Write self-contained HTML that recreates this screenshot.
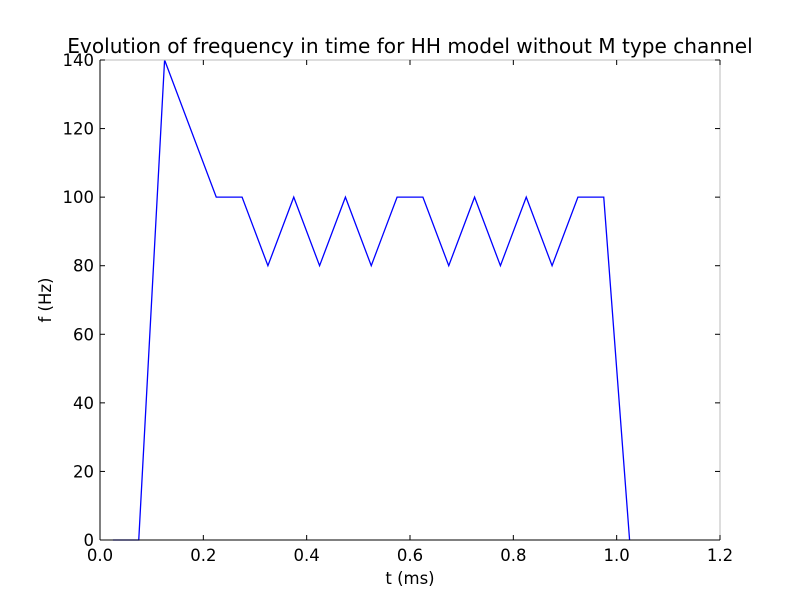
<!DOCTYPE html>
<html><head><meta charset="utf-8"><style>
body{margin:0;background:#fff;}
svg text{font-family:"DejaVu Sans","Liberation Sans",sans-serif;fill:#000;}
</style></head><body>
<svg id="chart" width="800" height="600" xmlns="http://www.w3.org/2000/svg">
<rect width="800" height="600" fill="#fff"/>
<text x="410" y="53" font-size="20.1" text-anchor="middle">Evolution of frequency in time for HH model without M type channel</text>
<g id="axes"></g>
<text x="410" y="584" font-size="16.5" text-anchor="middle">t (ms)</text>
<text x="0" y="0" font-size="16.5" text-anchor="middle" transform="translate(51,300) rotate(-90)">f (Hz)</text>
</svg>
<script>
const tValues=[0.025,0.075,0.125,0.225,0.275,0.325,0.375,0.425,0.475,0.525,0.575,0.625,0.675,0.725,0.775,0.825,0.875,0.925,0.975,1.025];
const fValues=[0,0,140,100,100,80,100,80,100,80,100,100,80,100,80,100,80,100,100,0];
const xTicks=[0,0.2,0.4,0.6,0.8,1.0,1.2];
const xTickLabels=["0.0","0.2","0.4","0.6","0.8","1.0","1.2"];
const yTicks=[0,20,40,60,80,100,120,140];
const yTickLabels=["0","20","40","60","80","100","120","140"];
const L=100,R=720,T=60,B=540;
const xs=v=>L+(v-0)/(1.2-0)*(R-L);
const ys=v=>B-(v-0)/(140-0)*(B-T);
const NS="http://www.w3.org/2000/svg";
const g=document.getElementById('axes');
function mk(tag,attrs){const e=document.createElementNS(NS,tag);for(const k in attrs)e.setAttribute(k,attrs[k]);g.appendChild(e);return e;}
const pts=tValues.map((t,i)=>xs(t)+','+ys(fValues[i])).join(' ');
const line=mk('polyline',{points:pts,fill:'none',stroke:'#0000ff','stroke-width':1.3});


mk('line',{x1:L,y1:T,x2:R,y2:T,stroke:'#bbb'});
mk('line',{x1:R,y1:T,x2:R,y2:B,stroke:'#bbb'});
mk('line',{x1:L,y1:T,x2:L,y2:B,stroke:'#000'});
mk('line',{x1:L,y1:B,x2:R,y2:B,stroke:'#000'});
xTicks.forEach((v,i)=>{
  const x=xs(v);
  mk('line',{x1:x,y1:B,x2:x,y2:B-5,stroke:'#000'});
  mk('line',{x1:x,y1:T,x2:x,y2:T+5,stroke:'#000'});
  const t=mk('text',{x:x,y:B+21,'font-size':16.5,'text-anchor':'middle'});
  t.textContent=xTickLabels[i];
  
  
});
yTicks.forEach((v,i)=>{
  const y=ys(v);
  mk('line',{x1:L,y1:y,x2:L+5,y2:y,stroke:'#000'});
  mk('line',{x1:R,y1:y,x2:R-5,y2:y,stroke:'#000'});
  const t=mk('text',{x:L-6,y:y+6,'font-size':16.5,'text-anchor':'end'});
  t.textContent=yTickLabels[i];
  
  
});
</script>
</body></html>
